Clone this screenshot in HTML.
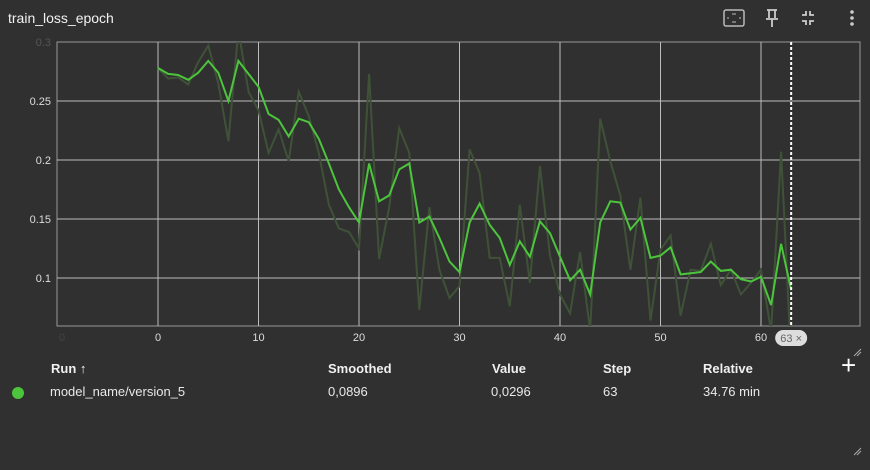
<!DOCTYPE html>
<html><head><meta charset="utf-8"><style>
body{margin:0;width:870px;height:470px;background:#303030;overflow:hidden;font-family:"Liberation Sans",sans-serif;color:#e8e8e8;position:relative}
.abs{position:absolute}
.th{position:absolute;top:361px;font-size:13px;font-weight:bold;color:#f0f0f0}
.td{position:absolute;top:384px;font-size:13px;color:#e8e8e8}
</style></head><body>
<div class="abs" style="left:8px;top:10px;font-size:14px;color:#f2f2f2">train_loss_epoch</div>
<svg class="abs" style="left:720px;top:8px" width="140" height="22">
<g><rect x="4" y="2" width="20" height="16" rx="2" fill="none" stroke="#bbb" stroke-width="1.5"/><path d="M12 6h4M12 14h4M8 9v2M20 9v2" stroke="#bbb"/></g>
<g><path d="M47 2h10M49 2v8M55 2v8M46 11h12M52 11v8" stroke="#ccc" stroke-width="1.8" fill="none"/></g>
<g><path d="M86 3v4h-4M90 3v4h4M86 17v-4h-4M90 17v-4h4" stroke="#ccc" stroke-width="1.8" fill="none"/></g>
<g><circle cx="132" cy="4" r="1.8" fill="#ccc"/><circle cx="132" cy="10" r="1.8" fill="#ccc"/><circle cx="132" cy="16" r="1.8" fill="#ccc"/></g>
</svg>
<svg id="chart" class="abs" style="left:0;top:0" width="870" height="350"></svg>
<svg class="abs" style="left:852px;top:347px" width="10" height="10"><path d="M2 9L9 2M5 9L9 5" stroke="#aaa"/></svg>
<div class="th" style="left:51px">Run ↑</div>
<div class="th" style="left:328px">Smoothed</div>
<div class="th" style="left:492px">Value</div>
<div class="th" style="left:603px">Step</div>
<div class="th" style="left:703px">Relative</div>
<div class="abs" style="left:841px;top:352px;font-size:26px;line-height:26px;color:#fff">+</div>
<div class="abs" style="left:12px;top:387px;width:12px;height:12px;border-radius:50%;background:#4cc53c"></div>
<div class="td" style="left:50px">model_name/version_5</div>
<div class="td" style="left:328px">0,0896</div>
<div class="td" style="left:491px">0,0296</div>
<div class="td" style="left:603px">63</div>
<div class="td" style="left:703px">34.76 min</div>
<svg class="abs" style="left:852px;top:446px" width="10" height="10"><path d="M2 9L9 2M5 9L9 5" stroke="#aaa"/></svg>
<script>
const steps=[];for(let i=0;i<64;i++)steps.push(i);
const rawValues=[0.278,0.269,0.270,0.264,0.283,0.297,0.265,0.216,0.31,0.258,0.242,0.206,0.226,0.199,0.258,0.237,0.206,0.162,0.142,0.139,0.125,0.273,0.116,0.160,0.227,0.206,0.073,0.160,0.107,0.083,0.093,0.209,0.189,0.117,0.117,0.076,0.162,0.096,0.195,0.119,0.086,0.070,0.122,0.055,0.235,0.199,0.170,0.107,0.168,0.064,0.124,0.136,0.068,0.107,0.106,0.129,0.094,0.107,0.086,0.096,0.107,0.055,0.207,0.0296];
const smoothedValues=[0.278,0.273,0.272,0.268,0.274,0.284,0.274,0.250,0.284,0.273,0.262,0.239,0.234,0.220,0.235,0.232,0.218,0.197,0.175,0.160,0.147,0.197,0.165,0.170,0.192,0.197,0.147,0.152,0.134,0.114,0.105,0.147,0.163,0.145,0.134,0.111,0.131,0.118,0.148,0.138,0.118,0.098,0.107,0.086,0.147,0.165,0.164,0.141,0.151,0.117,0.119,0.126,0.103,0.104,0.105,0.114,0.106,0.107,0.099,0.097,0.101,0.077,0.129,0.0896];
const xTicks=[0,10,20,30,40,50,60];
const yTicks=[0.1,0.15,0.2,0.25];
const yTickLabels=["0.1","0.15","0.2","0.25"];
const X0=57,X1=860,Y0=42,Y1=326;
const xMin=-10.05,xMax=69.85,yMin=0.0593,yMax=0.3;
const sx=s=>X0+(s-xMin)/(xMax-xMin)*(X1-X0);
const sy=v=>Y1-(v-yMin)/(yMax-yMin)*(Y1-Y0);
const svg=document.getElementById('chart');const NS='http://www.w3.org/2000/svg';
function mk(t,a,p){const e=document.createElementNS(NS,t);for(const k in a)e.setAttribute(k,a[k]);(p||svg).appendChild(e);return e;}
const defs=mk('defs',{});const cp=mk('clipPath',{id:'c'},defs);mk('rect',{x:X0,y:Y0,width:X1-X0,height:Y1-Y0},cp);
const border=mk('rect',{x:X0,y:Y0,width:X1-X0,height:Y1-Y0,fill:'none',stroke:'#999'});


xTicks.forEach(t=>{const g=mk('line',{x1:sx(t),x2:sx(t),y1:Y0,y2:Y1,stroke:'#bdbdbd'});


const l=mk('text',{x:sx(t),y:341,'text-anchor':'middle','font-size':11,fill:'#ddd','font-family':'Liberation Sans'});l.textContent=t;

});
yTicks.forEach((t,i)=>{const g=mk('line',{x1:X0,x2:X1,y1:sy(t),y2:sy(t),stroke:'#bdbdbd'});


const l=mk('text',{x:51,y:sy(t)+4,'text-anchor':'end','font-size':11,fill:'#ddd','font-family':'Liberation Sans'});l.textContent=yTickLabels[i];

});
const f1=mk('text',{x:51,y:46,'text-anchor':'end','font-size':11,fill:'#555','font-family':'Liberation Sans'});f1.textContent='0.3';


const f2=mk('text',{x:62,y:341,'text-anchor':'middle','font-size':11,fill:'#444','font-family':'Liberation Sans'});f2.textContent='0';


const pts=a=>a.map((v,i)=>sx(steps[i]).toFixed(1)+','+sy(v).toFixed(1)).join(' ');
const raw=mk('polyline',{points:pts(rawValues),fill:'none',stroke:'#3f5238','stroke-width':2,'clip-path':'url(#c)'});


const sm=mk('polyline',{points:pts(smoothedValues),fill:'none',stroke:'#4cc53c','stroke-width':2,'clip-path':'url(#c)'});


const cx=sx(63);
const cur=mk('line',{x1:cx,x2:cx,y1:Y0,y2:Y1,stroke:'#fff','stroke-width':2,'stroke-dasharray':'3,2'});


const chip=mk('rect',{x:cx-16,y:330,width:32,height:16,rx:8,fill:'#ddd'});


const ct=mk('text',{x:cx,y:342,'text-anchor':'middle','font-size':11,fill:'#666','font-family':'Liberation Sans'});ct.textContent='63 ×';


</script>
</body></html>
